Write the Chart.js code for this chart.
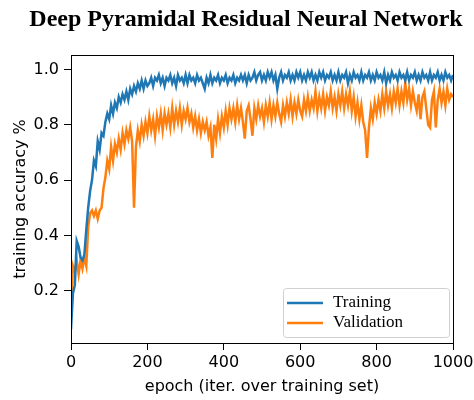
<!DOCTYPE html>
<html lang="en">
<head>
    <meta charset="UTF-8">
    <title>Deep Pyramidal Residual Neural Network</title>
    <script src="https://cdn.jsdelivr.net/npm/chart.js"></script>
    <style>
        body { margin: 0; background: #fff; }
        canvas { display: block; }
    </style>
</head>
<body>
    <canvas id="accChart" width="474" height="400"></canvas>
    <script>
        // one sample every 5 epochs
        const epochStep = 5;
        const yTicks = [0.2, 0.4, 0.6, 0.8, 1.0];
        const xTicks = [0, 200, 400, 600, 800, 1000];
        const seriesNames = ["Training", "Validation"];
        const seriesColors = ["#1f77b4", "#ff7f0e"];

        const training = [
            0.06, 0.19, 0.22, 0.38, 0.36, 0.32, 0.31, 0.33, 0.42, 0.50, 0.56,
            0.60, 0.67, 0.65, 0.74, 0.71, 0.77, 0.76, 0.81, 0.84, 0.82,
            0.87, 0.84, 0.88, 0.86, 0.90, 0.88, 0.91, 0.89, 0.92, 0.89,
            0.93, 0.91, 0.94, 0.92, 0.95, 0.93, 0.96, 0.93, 0.96, 0.94,
            0.95, 0.97, 0.94, 0.97, 0.96, 0.98, 0.95, 0.97, 0.94, 0.97,
            0.96, 0.98, 0.95, 0.97, 0.94, 0.98, 0.96, 0.97, 0.95, 0.98,
            0.95, 0.98, 0.96, 0.97, 0.95, 0.98, 0.96, 0.97, 0.95, 0.93,
            0.97, 0.95, 0.98, 0.95, 0.97, 0.96, 0.98, 0.95, 0.97, 0.96,
            0.98, 0.95, 0.97, 0.96, 0.98, 0.95, 0.97, 0.96, 0.98, 0.96,
            0.98, 0.95, 0.98, 0.96, 0.97, 0.99, 0.96, 0.98, 0.99, 0.96,
            0.98, 0.96, 0.99, 0.97, 0.99, 0.96, 0.98, 0.93, 0.97, 0.99,
            0.96, 0.98, 0.97, 0.99, 0.96, 0.98, 0.96, 0.99, 0.97, 0.99,
            0.96, 0.98, 0.96, 0.99, 0.97, 0.99, 0.96, 0.98, 0.96, 0.99,
            0.97, 0.99, 0.96, 0.98, 0.97, 0.99, 0.96, 0.98, 0.96, 0.99,
            0.96, 0.98, 0.97, 0.99, 0.95, 0.98, 0.96, 0.99, 0.97, 0.98,
            0.96, 0.99, 0.96, 0.98, 0.97, 0.99, 0.96, 0.98, 0.96, 0.99,
            0.97, 0.98, 0.96, 0.99, 0.95, 0.98, 0.96, 0.99, 0.97, 0.98,
            0.96, 0.99, 0.97, 0.98, 0.96, 0.99, 0.96, 0.98, 0.97, 0.99,
            0.96, 0.98, 0.96, 0.99, 0.97, 0.98, 0.96, 0.99, 0.96, 0.98,
            0.97, 0.99, 0.96, 0.98, 0.96, 0.99, 0.97, 0.98, 0.96, 0.98
        ];

        const validation = [
            0.13, 0.29, 0.27, 0.31, 0.26, 0.31, 0.28, 0.32, 0.29, 0.43, 0.48,
            0.49, 0.47, 0.49, 0.46, 0.49, 0.50, 0.57, 0.61, 0.67, 0.64,
            0.72, 0.67, 0.73, 0.70, 0.75, 0.71, 0.77, 0.73, 0.78, 0.75,
            0.79, 0.74, 0.50, 0.72, 0.78, 0.74, 0.80, 0.76, 0.81, 0.77,
            0.83, 0.78, 0.82, 0.76, 0.83, 0.79, 0.84, 0.78, 0.84, 0.80,
            0.84, 0.79, 0.86, 0.80, 0.85, 0.81, 0.86, 0.80, 0.85, 0.82,
            0.86, 0.81, 0.84, 0.79, 0.83, 0.78, 0.82, 0.77, 0.81, 0.78,
            0.81, 0.76, 0.79, 0.68, 0.80, 0.75, 0.82, 0.77, 0.83, 0.79,
            0.85, 0.80, 0.86, 0.82, 0.86, 0.81, 0.87, 0.82, 0.86, 0.81,
            0.75, 0.85, 0.87, 0.82, 0.76, 0.86, 0.82, 0.87, 0.83, 0.86,
            0.81, 0.87, 0.83, 0.88, 0.82, 0.87, 0.83, 0.88, 0.84, 0.81,
            0.87, 0.83, 0.88, 0.84, 0.89, 0.83, 0.88, 0.84, 0.89, 0.85,
            0.83, 0.89, 0.85, 0.90, 0.85, 0.89, 0.86, 0.92, 0.85, 0.90,
            0.86, 0.91, 0.85, 0.90, 0.87, 0.92, 0.86, 0.90, 0.85, 0.91,
            0.87, 0.92, 0.86, 0.91, 0.87, 0.92, 0.85, 0.90, 0.83, 0.88,
            0.82, 0.87, 0.81, 0.78, 0.68, 0.79, 0.86, 0.82, 0.88, 0.84,
            0.89, 0.85, 0.91, 0.86, 0.92, 0.87, 0.91, 0.86, 0.92, 0.88,
            0.93, 0.87, 0.92, 0.88, 0.95, 0.89, 0.93, 0.87, 0.92, 0.88,
            0.85, 0.91, 0.82, 0.90, 0.92, 0.86, 0.80, 0.79, 0.89, 0.92,
            0.79, 0.89, 0.93, 0.88, 0.92, 0.87, 0.93, 0.89, 0.91, 0.90
        ];

        const sansFont = "'DejaVu Sans', sans-serif";
        const serifFont = "'Liberation Serif', 'Times New Roman', serif";

        function toPoints(values) {
            return values.map((v, i) => ({ x: i * epochStep, y: v }));
        }

        // title, frame and legend are drawn by hand like the matplotlib figure
        const figureDecor = {
            id: "figureDecor",
            afterDatasetsDraw(chart) {
                const ctx = chart.ctx;
                const area = chart.chartArea;
                // legend box, lower right
                const boxW = 166, boxH = 49;
                const bx = area.right - 4 - boxW;
                const by = area.bottom - 6 - boxH;
                ctx.save();
                ctx.fillStyle = "rgba(255,255,255,0.8)";
                ctx.strokeStyle = "#d0d0d0";
                ctx.lineWidth = 1;
                ctx.beginPath();
                ctx.roundRect(bx + 0.5, by + 0.5, boxW, boxH, 3);
                ctx.fill();
                ctx.stroke();
                ctx.font = "17px " + serifFont;
                ctx.textBaseline = "middle";
                ctx.fillStyle = "#000";
                seriesNames.forEach((name, i) => {
                    const ly = by + 15 + i * 20;
                    ctx.strokeStyle = seriesColors[i];
                    ctx.lineWidth = 2.5;
                    ctx.beginPath();
                    ctx.moveTo(bx + 4, ly);
                    ctx.lineTo(bx + 40, ly);
                    ctx.stroke();
                    ctx.fillText(name, bx + 50, ly);
                });
                ctx.restore();
            },
            afterDraw(chart) {
                const ctx = chart.ctx;
                const area = chart.chartArea;
                ctx.save();
                ctx.strokeStyle = "#000";
                ctx.lineWidth = 1;
                ctx.strokeRect(area.left + 0.5, area.top + 0.5, area.right - area.left, area.bottom - area.top);
                ctx.font = "bold 24px " + serifFont;
                ctx.fillStyle = "#000";
                ctx.textAlign = "center";
                ctx.textBaseline = "alphabetic";
                ctx.fillText("Deep Pyramidal Residual Neural Network", 246, 26);
                ctx.restore();
            }
        };

        const ctx = document.getElementById("accChart").getContext("2d");
        new Chart(ctx, {
            type: "line",
            data: {
                datasets: [
                    { label: seriesNames[0], data: toPoints(training), borderColor: seriesColors[0], borderWidth: 2.5, pointRadius: 0, fill: false },
                    { label: seriesNames[1], data: toPoints(validation), borderColor: seriesColors[1], borderWidth: 2.5, pointRadius: 0, fill: false }
                ]
            },
            options: {
                responsive: false,
                animation: false,
                layout: { padding: { left: 0, right: 21, top: 55, bottom: 0 } },
                plugins: { legend: { display: false }, title: { display: false }, tooltip: { enabled: false } },
                scales: {
                    x: {
                        type: "linear",
                        min: 0,
                        max: 1000,
                        afterFit: s => { s.height = 57; s.paddingLeft = 0; s.paddingRight = 0; },
                        afterBuildTicks: s => { s.ticks = xTicks.map(v => ({ value: v })); },
                        grid: { drawOnChartArea: false, tickLength: 7, tickColor: "#000" },
                        border: { color: "#000", width: 1 },
                        ticks: { color: "#000", padding: 3, maxRotation: 0, font: { family: sansFont, size: 16 }, callback: v => String(v) },
                        title: { display: true, text: "epoch (iter. over training set)", color: "#000", padding: { top: 0, bottom: 4 }, font: { family: sansFont, size: 16 } }
                    },
                    y: {
                        min: 0.011,
                        max: 1.052,
                        afterFit: s => { s.width = 71; s.paddingTop = 0; s.paddingBottom = 0; },
                        afterBuildTicks: s => { s.ticks = yTicks.map(v => ({ value: v })); },
                        grid: { drawOnChartArea: false, tickLength: 7, tickColor: "#000" },
                        border: { color: "#000", width: 1 },
                        ticks: { color: "#000", padding: 5, font: { family: sansFont, size: 16 }, callback: v => v.toFixed(1) },
                        title: { display: true, text: "training accuracy %", color: "#000", padding: { top: 11, bottom: 0 }, font: { family: sansFont, size: 16 } }
                    }
                }
            },
            plugins: [figureDecor]
        });
    </script>
</body>
</html>
